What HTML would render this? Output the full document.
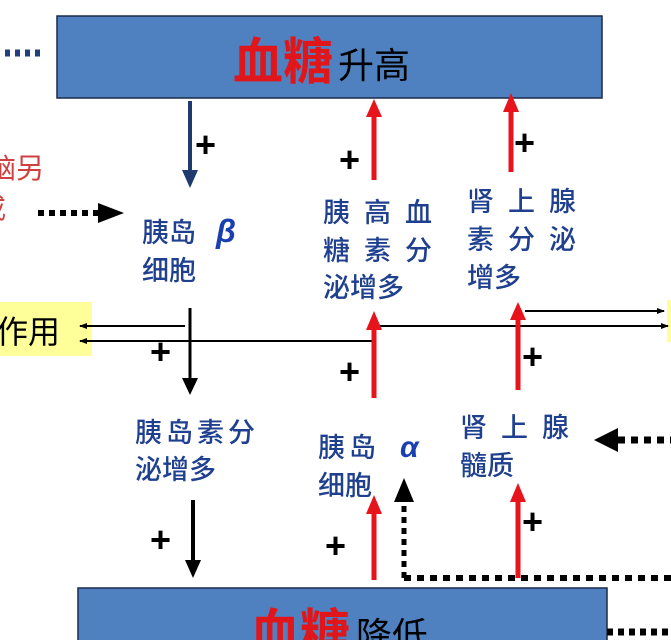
<!DOCTYPE html>
<html><head><meta charset="utf-8"><style>
html,body{margin:0;padding:0;background:#fff;width:671px;height:640px;overflow:hidden}
svg{display:block}
text{font-family:"Liberation Sans","Noto Sans CJK SC",sans-serif}
.b{fill:#1f3f8f;font-size:27px;font-weight:500}
.p{font-size:36px;font-weight:bold;fill:#000}
</style></head><body>
<svg width="671" height="640" viewBox="0 0 671 640">
<defs>
<marker id="ak" markerWidth="8" markerHeight="8" refX="7" refY="4" orient="auto" markerUnits="userSpaceOnUse"><path d="M0,1 L8,4 L0,7Z" fill="#000"/></marker>
</defs>
<rect x="57" y="16" width="545" height="82" fill="#4f81c0" stroke="#1a2a4a" stroke-width="1.5"/>
<text x="233" y="79" font-size="50" fill="#e0161a" font-weight="bold">血糖</text>
<text x="338" y="78" font-size="36" fill="#000">升高</text>
<line x1="5" y1="53" x2="45" y2="53" stroke="#1f3f7f" stroke-width="7" stroke-dasharray="5,5"/>
<text x="-12" y="178" font-size="28" fill="#d04040">脑另</text>
<text x="-22" y="218" font-size="28" fill="#d04040">戒</text>
<line x1="190" y1="101" x2="190" y2="172" stroke="#1f3a6f" stroke-width="4"/>
<path d="M182,170 L198,170 L190,188Z" fill="#1f3a6f"/>
<text x="195" y="157" class="p">+</text>
<text x="339" y="172" class="p">+</text>
<text x="514" y="155" class="p">+</text>
<line x1="374" y1="180" x2="374" y2="115" stroke="#e8141c" stroke-width="5"/>
<path d="M366,117 L382,117 L374,99Z" fill="#e8141c"/>
<line x1="511" y1="172" x2="511" y2="110" stroke="#e8141c" stroke-width="5"/>
<path d="M503,112 L519,112 L511,93Z" fill="#e8141c"/>
<line x1="38" y1="213" x2="98" y2="213" stroke="#000" stroke-width="6" stroke-dasharray="6,5"/>
<path d="M98,203 L124,213 L98,223Z" fill="#000"/>
<text x="142" y="242" class="b">胰岛</text>
<text x="216" y="242" font-size="32" fill="#1a3fb0" font-style="italic" font-weight="bold">β</text>
<text x="142" y="280" class="b">细胞</text>
<text x="323" y="222" class="b" letter-spacing="14">胰高血</text>
<text x="323" y="260" class="b" letter-spacing="14">糖素分</text>
<text x="323" y="297" class="b">泌增多</text>
<text x="467" y="211" class="b" letter-spacing="14">肾上腺</text>
<text x="467" y="249" class="b" letter-spacing="14">素分泌</text>
<text x="467" y="287" class="b">增多</text>
<rect x="0" y="302" width="92" height="54" fill="#ffff99"/>
<text x="-4" y="343" font-size="32" fill="#000">作用</text>
<rect x="667" y="300" width="4" height="42" fill="#ffff99"/>
<line x1="185" y1="326" x2="80" y2="326" stroke="#000" stroke-width="2" marker-end="url(#ak)"/>
<line x1="375" y1="341" x2="80" y2="341" stroke="#000" stroke-width="2" marker-end="url(#ak)"/>
<line x1="378" y1="326" x2="668" y2="326" stroke="#000" stroke-width="2" marker-end="url(#ak)"/>
<line x1="525" y1="311" x2="664" y2="311" stroke="#000" stroke-width="2" marker-end="url(#ak)"/>
<line x1="190" y1="308" x2="190" y2="380" stroke="#000" stroke-width="3"/>
<path d="M182,378 L198,378 L190,395Z" fill="#000"/>
<text x="150" y="364" class="p">+</text>
<line x1="374" y1="398" x2="374" y2="328" stroke="#e8141c" stroke-width="5"/>
<path d="M366,330 L382,330 L374,311Z" fill="#e8141c"/>
<line x1="518" y1="390" x2="518" y2="318" stroke="#e8141c" stroke-width="5"/>
<path d="M510,320 L526,320 L518,302Z" fill="#e8141c"/>
<text x="339" y="384" class="p">+</text>
<text x="522" y="369" class="p">+</text>
<text x="135" y="442" class="b" letter-spacing="4">胰岛素分</text>
<text x="135" y="479" class="b">泌增多</text>
<text x="318" y="457" class="b" letter-spacing="4">胰岛</text>
<text x="400" y="457" font-size="30" fill="#1a3fb0" font-style="italic" font-weight="bold">α</text>
<text x="318" y="495" class="b">细胞</text>
<text x="460" y="437" class="b" letter-spacing="14">肾上腺</text>
<text x="460" y="475" class="b">髓质</text>
<line x1="618" y1="440" x2="671" y2="440" stroke="#000" stroke-width="7" stroke-dasharray="7,6"/>
<path d="M618,428 L594,440 L618,452Z" fill="#000"/>
<line x1="193" y1="500" x2="193" y2="562" stroke="#000" stroke-width="4"/>
<path d="M185,560 L201,560 L193,578Z" fill="#000"/>
<text x="150" y="552" class="p">+</text>
<line x1="374" y1="580" x2="374" y2="512" stroke="#e8141c" stroke-width="5"/>
<path d="M366,514 L382,514 L374,495Z" fill="#e8141c"/>
<text x="325" y="558" class="p">+</text>
<line x1="518" y1="578" x2="518" y2="500" stroke="#e8141c" stroke-width="5"/>
<path d="M510,502 L526,502 L518,483Z" fill="#e8141c"/>
<text x="522" y="534" class="p">+</text>
<line x1="404" y1="578" x2="404" y2="500" stroke="#000" stroke-width="5" stroke-dasharray="6,5"/>
<path d="M394,502 L414,502 L404,478Z" fill="#000"/>
<line x1="404" y1="578" x2="671" y2="578" stroke="#000" stroke-width="6" stroke-dasharray="7,6"/>
<rect x="78" y="588" width="529" height="60" fill="#4f81c0" stroke="#1a2a4a" stroke-width="1.5"/>
<text x="250" y="650" font-size="50" fill="#e0161a" font-weight="bold">血糖</text>
<text x="356" y="648" font-size="36" fill="#000">降低</text>
<line x1="607" y1="632" x2="671" y2="632" stroke="#000" stroke-width="7" stroke-dasharray="6,5"/>
</svg>
</body></html>
